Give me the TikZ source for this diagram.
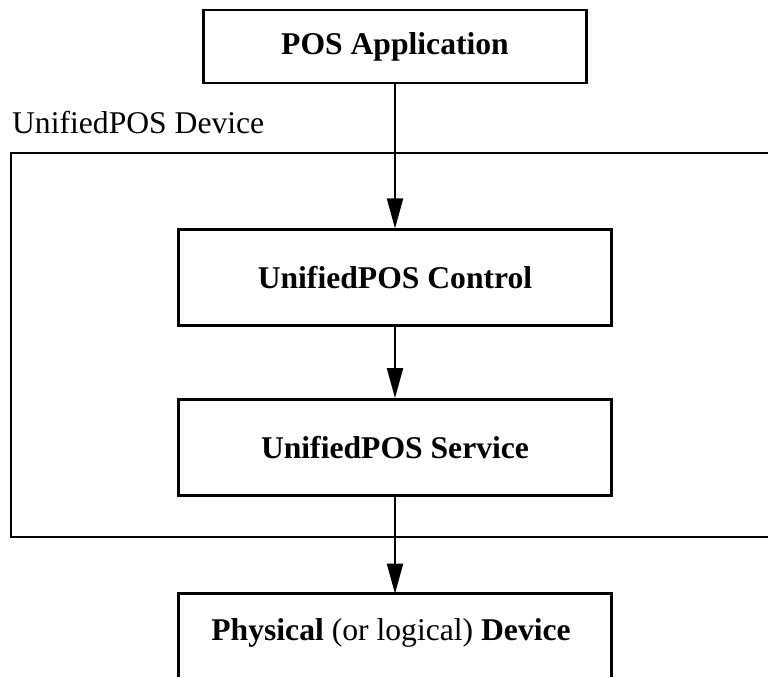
\documentclass[tikz,border=0pt]{standalone}
\usepackage{fontspec}
\setmainfont{Liberation Serif}
\usetikzlibrary{positioning, arrows.meta}

\begin{document}
\begin{tikzpicture}[
    x=0.03cm, y=-0.03cm,
    node distance=2cm,
    every node/.style={align=center, font=\fontsize{27}{31}\selectfont},
    block_app/.style={
        rectangle,
        draw,
        line width=2.5pt,
        minimum width=11.49cm,
        minimum height=2.19cm,
        font=\fontsize{27}{31}\selectfont\bfseries
    },
    block_dev/.style={
        rectangle,
        draw,
        line width=2.5pt,
        minimum width=12.99cm,
        minimum height=2.87cm,
        font=\fontsize{27}{31}\selectfont\bfseries
    },
    block_open/.style={
        rectangle,
        minimum width=12.99cm,
        minimum height=2.34cm
    },
    frame/.style = {draw, line width=2.5pt},
    arrow/.style = {draw, -{Triangle[length=0.9cm, width=0.48cm]}, line width=1.7pt}
]
    \useasboundingbox (0,0) rectangle (768,677);
    % 外框
    \draw [frame] (768,153) -- (11,153) -- (11,537) -- (768,537);
    \node [anchor=base west] (devlabel) at (8,134) {UnifiedPOS Device};
    % 定义节点
    \node [block_app] (app) at (395,46.5) {POS Application};
    \node [block_dev, below=4.32cm of app] (control) {UnifiedPOS Control};
    \node [block_dev, below=2.13cm of control] (service) {UnifiedPOS Service};
    \node [block_open, below=2.91cm of service] (physical) {
        \textbf{Physical} (or logical) \textbf{Device}
    };
    \coordinate (bottom) at (0,677);
    \draw [frame] (physical.north west |- bottom) -- (physical.north west)
        -- (physical.north east) -- (physical.north east |- bottom);
    % 画箭头
    \draw [arrow] (app) -- (control);
    \draw [arrow] (control) -- (service);
    \draw [arrow] (service) -- (physical);
\end{tikzpicture}
\end{document}
